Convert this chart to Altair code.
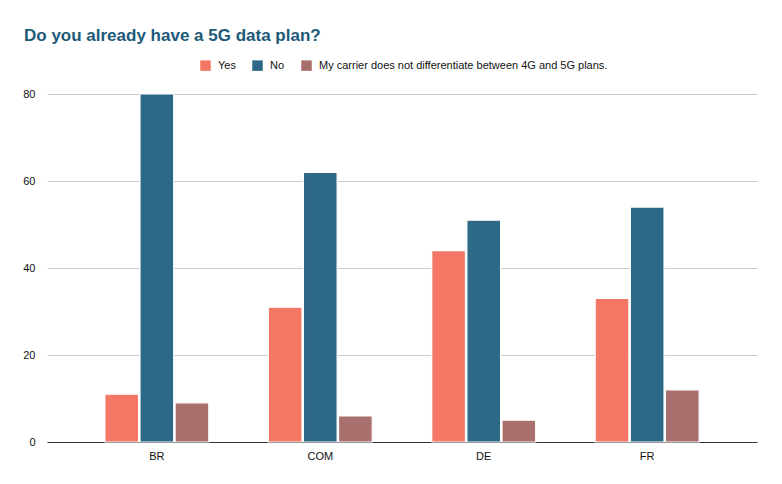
import altair as alt
import pandas as pd

countries = ["BR", "COM", "DE", "FR"]
series = ["Yes", "No", "My carrier does not differentiate between 4G and 5G plans."]
yes_vals = [11, 31, 44, 33]
no_vals = [80, 62, 51, 54]
carrier_vals = [9, 6, 5, 12]
colors = ["#f47766", "#2d6886", "#a86f6d"]

rows = []
for i, c in enumerate(countries):
    for s, vals in zip(series, [yes_vals, no_vals, carrier_vals]):
        rows.append({"country": c, "series": s, "value": vals[i]})
df = pd.DataFrame(rows)

FONT = "Arial"

bars = alt.Chart(df).mark_bar(stroke="white", strokeWidth=1.2).encode(
    x=alt.X("country:N", sort=countries, title=None,
            scale=alt.Scale(paddingInner=0.364, paddingOuter=0.354),
            axis=alt.Axis(labelAngle=0, ticks=False, domainColor="#333333", domainWidth=1,
                          labelFont=FONT, labelFontSize=11, labelColor="#111111", labelPadding=8)),
    xOffset=alt.XOffset("series:N", sort=series, scale=alt.Scale(paddingInner=0.04)),
    y=alt.Y("value:Q", title=None,
            scale=alt.Scale(domain=[0, 80], nice=False),
            axis=alt.Axis(values=[0, 20, 40, 60, 80], ticks=False, domain=False,
                          gridColor="#cccccc", labelFont=FONT, labelFontSize=11,
                          labelColor="#111111", labelPadding=12)),
    color=alt.Color("series:N", sort=series, title=None,
                    scale=alt.Scale(domain=series, range=colors),
                    legend=alt.Legend(orient="none", legendX=153, legendY=-34, direction="horizontal",
                                      symbolType="square", symbolSize=110, symbolStrokeWidth=0,
                                      labelFont=FONT, labelFontSize=11, labelColor="#111111",
                                      labelLimit=0, columnPadding=16, labelOffset=7)),
)

chart = bars.properties(
    width=710, height=348,
    background="white",
    title=alt.TitleParams("Do you already have a 5G data plan?", anchor="start", frame="group",
                          font=FONT, fontSize=17, fontWeight="bold", color="#1d5a78",
                          dx=-23, offset=15),
    autosize=alt.AutoSizeParams(type="none"),
    padding={"left": 39, "top": 86, "right": 17, "bottom": 34},
).configure_view(strokeWidth=0)

chart.save("out.html", embed_options={"renderer": "svg", "actions": False})
